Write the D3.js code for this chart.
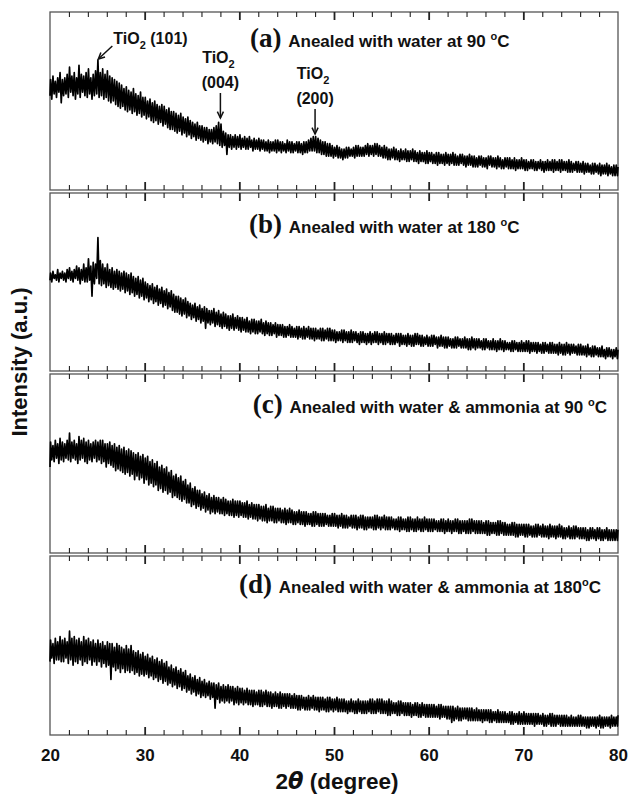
<!DOCTYPE html>
<html>
<head>
<meta charset="utf-8">
<script src="https://cdn.jsdelivr.net/npm/d3@7"></script>
<style>
  body { margin: 0; background: #fff; }
  svg { display: block; }
</style>
</head>
<body>
<script>
// 2-theta grid (degrees), one reading every 0.25 degree
const twoTheta = d3.range(20, 80.001, 0.25);

// panel labels and captions
const panelLetters = ["(a)", "(b)", "(c)", "(d)"];
const panelCaptions = [
  "Anealed with water at 90 ",
  "Anealed with water at 180 ",
  "Anealed with water & ammonia at 90 ",
  "Anealed with water & ammonia at 180"
];

// upper / lower edge of the noisy trace, intensity in a.u. (0 = panel floor, 100 = panel top)
// each row is 5 degrees
const aHigh = [
  62, 64, 61, 63, 66, 62, 63, 65, 69, 64, 66, 63, 70, 65, 64, 66, 68, 63, 65, 67,
  73, 66, 68, 65, 67, 64, 63, 62, 61, 60, 59, 57, 58, 56, 55, 57, 54, 53, 55, 52,
  52, 50, 51, 49, 50, 48, 47, 48, 47, 45, 46, 44, 44, 43, 42, 43, 41, 40, 41, 39,
  38, 37, 38, 36, 36, 35, 35, 34, 34, 35, 36, 38, 37, 33, 32, 31, 31, 30, 31, 30,
  31, 29, 30, 29, 30, 28, 29, 28, 29, 28, 28, 27, 28, 27, 27, 28, 28, 27, 27, 26,
  28, 27, 27, 26, 27, 27, 26, 27, 27, 28, 29, 30, 30, 29, 28, 27, 27, 26, 26, 25,
  24, 25, 24, 23, 23, 24, 24, 23, 24, 25, 25, 24, 24, 25, 26, 25, 25, 26, 26, 25,
  24, 25, 24, 23, 23, 24, 23, 22, 23, 22, 23, 22, 22, 23, 22, 21, 22, 21, 21, 22,
  21, 21, 20, 21, 21, 20, 20, 21, 20, 20, 21, 20, 19, 20, 20, 19, 19, 20, 19, 19,
  18, 19, 19, 18, 18, 19, 19, 18, 18, 19, 18, 17, 18, 18, 18, 17, 18, 17, 17, 18,
  17, 17, 16, 17, 17, 16, 16, 17, 16, 16, 17, 16, 17, 17, 16, 17, 17, 16, 16, 17,
  16, 15, 16, 16, 15, 16, 15, 15, 14, 15, 15, 14, 15, 14, 14, 15, 14, 13, 14, 14,
  13
];
const aLow = [
  53, 51, 54, 52, 55, 49, 53, 54, 52, 55, 53, 51, 54, 52, 55, 53, 52, 54, 51, 53,
  54, 52, 53, 51, 52, 50, 49, 50, 48, 47, 46, 47, 45, 44, 45, 43, 44, 42, 43, 41,
  42, 40, 41, 39, 38, 39, 37, 38, 36, 37, 35, 34, 34, 33, 32, 33, 31, 32, 30, 31,
  29, 30, 28, 29, 28, 27, 28, 26, 27, 26, 27, 26, 25, 24, 25, 20, 24, 23, 24, 23,
  24, 23, 24, 23, 23, 24, 22, 23, 23, 22, 23, 22, 22, 21, 22, 22, 21, 22, 21, 22,
  21, 22, 21, 21, 22, 21, 21, 20, 21, 21, 22, 22, 22, 21, 21, 20, 20, 19, 19, 19,
  18, 19, 18, 18, 17, 18, 18, 19, 19, 18, 19, 19, 19, 19, 20, 19, 20, 19, 20, 19,
  19, 18, 18, 17, 17, 18, 17, 17, 16, 17, 17, 16, 16, 17, 16, 16, 15, 16, 16, 15,
  15, 16, 15, 15, 14, 15, 15, 14, 15, 14, 15, 14, 14, 14, 15, 14, 13, 14, 14, 13,
  13, 13, 14, 13, 13, 12, 14, 13, 13, 12, 13, 12, 12, 13, 12, 12, 12, 11, 12, 12,
  12, 11, 11, 12, 12, 11, 11, 12, 11, 10, 11, 11, 11, 10, 11, 11, 10, 11, 11, 10,
  10, 10, 11, 10, 10, 10, 9, 10, 10, 9, 9, 10, 9, 8, 9, 9, 8, 9, 8, 8,
  8
];
const bHigh = [
  55, 56, 54, 57, 55, 56, 55, 57, 58, 56, 57, 59, 58, 57, 60, 58, 63, 59, 61, 60,
  75, 62, 60, 58, 60, 57, 58, 56, 57, 56, 55, 56, 55, 54, 55, 53, 52, 53, 51, 52,
  50, 49, 48, 49, 47, 48, 46, 47, 45, 46, 44, 45, 43, 42, 42, 41, 40, 41, 39, 38,
  37, 38, 36, 37, 35, 36, 35, 34, 34, 35, 33, 34, 32, 33, 32, 31, 31, 32, 30, 31,
  30, 30, 29, 30, 28, 29, 29, 28, 28, 29, 27, 28, 27, 27, 26, 27, 26, 26, 26, 25,
  25, 26, 25, 24, 25, 25, 24, 25, 24, 25, 24, 24, 24, 23, 24, 24, 23, 24, 24, 23,
  23, 22, 22, 23, 23, 22, 22, 23, 22, 22, 21, 22, 22, 21, 21, 22, 21, 22, 22, 21,
  21, 22, 21, 21, 21, 20, 21, 21, 21, 20, 20, 21, 20, 20, 21, 21, 20, 20, 19, 20,
  19, 20, 20, 19, 19, 20, 19, 19, 19, 18, 18, 19, 19, 18, 18, 19, 18, 18, 19, 18,
  18, 18, 17, 18, 18, 17, 17, 18, 17, 17, 18, 17, 17, 16, 16, 17, 17, 16, 16, 17,
  16, 17, 17, 16, 16, 16, 16, 15, 16, 16, 15, 16, 16, 15, 15, 16, 15, 15, 16, 15,
  15, 15, 14, 15, 15, 14, 14, 15, 13, 14, 14, 13, 13, 14, 12, 13, 13, 12, 12, 13,
  12
];
const bLow = [
  51, 50, 52, 51, 50, 52, 51, 50, 52, 51, 50, 52, 51, 49, 51, 50, 50, 51, 42, 49,
  52, 49, 48, 49, 47, 48, 47, 46, 47, 46, 45, 46, 44, 45, 43, 44, 42, 43, 41, 42,
  40, 41, 39, 40, 38, 39, 37, 38, 36, 37, 35, 36, 34, 33, 33, 32, 31, 32, 30, 31,
  29, 30, 28, 29, 27, 28, 24, 27, 26, 27, 25, 26, 25, 24, 25, 24, 23, 24, 23, 24,
  23, 22, 23, 22, 22, 21, 22, 21, 21, 22, 21, 20, 21, 20, 20, 21, 19, 20, 20, 19,
  19, 20, 19, 19, 19, 18, 19, 18, 18, 19, 18, 18, 17, 18, 18, 17, 17, 18, 17, 17,
  17, 16, 17, 17, 16, 17, 16, 16, 16, 17, 16, 15, 16, 16, 15, 16, 15, 16, 16, 15,
  16, 15, 15, 16, 15, 15, 15, 16, 14, 15, 15, 14, 15, 14, 14, 15, 15, 14, 14, 15,
  14, 14, 14, 15, 13, 14, 14, 13, 13, 14, 13, 13, 13, 14, 13, 13, 13, 12, 12, 13,
  12, 13, 13, 12, 12, 13, 12, 12, 12, 11, 12, 12, 11, 12, 12, 11, 11, 12, 11, 11,
  11, 11, 11, 10, 11, 11, 10, 11, 10, 10, 11, 10, 10, 10, 10, 9, 10, 9, 9, 10,
  9, 10, 10, 9, 9, 9, 9, 8, 9, 8, 8, 9, 8, 8, 8, 7, 8, 8, 7, 8,
  7
];
const cHigh = [
  62, 60, 63, 61, 64, 62, 61, 63, 67, 62, 63, 61, 65, 63, 64, 62, 63, 61, 62, 63,
  62, 63, 63, 61, 61, 62, 60, 61, 59, 60, 58, 59, 57, 58, 57, 56, 55, 56, 54, 55,
  53, 54, 51, 52, 50, 51, 48, 49, 47, 48, 45, 46, 43, 44, 42, 43, 40, 41, 38, 39,
  36, 37, 35, 35, 33, 34, 32, 33, 31, 32, 31, 31, 30, 31, 30, 29, 29, 30, 29, 29,
  29, 28, 28, 29, 27, 28, 27, 27, 27, 26, 26, 27, 25, 26, 26, 25, 25, 25, 24, 25,
  24, 25, 24, 23, 23, 24, 23, 23, 23, 22, 22, 23, 23, 22, 22, 22, 22, 21, 21, 22,
  22, 21, 21, 22, 21, 21, 20, 21, 21, 21, 20, 21, 21, 20, 20, 20, 20, 21, 21, 20,
  20, 21, 20, 20, 20, 19, 19, 20, 20, 19, 19, 20, 20, 19, 19, 20, 19, 19, 20, 19,
  19, 19, 19, 18, 18, 19, 19, 18, 19, 18, 18, 19, 19, 18, 18, 18, 18, 19, 19, 18,
  18, 18, 18, 17, 18, 18, 17, 17, 17, 18, 18, 17, 17, 16, 16, 17, 17, 16, 16, 16,
  16, 16, 16, 15, 15, 16, 16, 15, 16, 15, 15, 16, 15, 15, 15, 16, 15, 14, 14, 15,
  14, 15, 15, 14, 14, 14, 14, 13, 14, 14, 13, 14, 14, 13, 13, 14, 13, 13, 13, 13,
  13
];
const cLow = [
  48, 52, 51, 53, 50, 52, 51, 53, 52, 51, 53, 52, 50, 52, 53, 51, 50, 52, 51, 53,
  51, 52, 50, 51, 48, 50, 49, 48, 46, 47, 46, 45, 44, 45, 43, 44, 41, 43, 41, 42,
  39, 41, 38, 39, 37, 38, 35, 36, 34, 35, 33, 34, 31, 32, 31, 30, 29, 30, 28, 28,
  26, 27, 25, 26, 24, 25, 23, 24, 22, 23, 22, 23, 22, 22, 21, 22, 21, 21, 20, 21,
  20, 21, 20, 20, 19, 20, 19, 19, 18, 19, 18, 18, 17, 18, 18, 17, 17, 18, 17, 17,
  16, 17, 17, 16, 16, 17, 16, 16, 15, 16, 16, 15, 15, 16, 15, 15, 15, 16, 15, 15,
  15, 15, 14, 15, 14, 14, 14, 15, 14, 14, 13, 14, 14, 13, 13, 14, 14, 13, 13, 14,
  13, 14, 13, 13, 13, 14, 13, 13, 12, 13, 13, 12, 12, 13, 12, 12, 13, 12, 12, 13,
  12, 12, 12, 13, 12, 12, 12, 11, 12, 12, 11, 12, 12, 11, 11, 12, 11, 11, 11, 12,
  11, 11, 11, 11, 11, 10, 10, 11, 11, 10, 10, 11, 10, 10, 10, 10, 10, 9, 9, 10,
  10, 9, 9, 10, 9, 9, 9, 10, 9, 9, 9, 8, 9, 9, 8, 9, 9, 8, 8, 9,
  8, 8, 8, 9, 8, 8, 8, 7, 7, 8, 8, 7, 8, 7, 7, 8, 7, 7, 7, 7,
  7
];
const dHigh = [
  53, 51, 54, 52, 55, 53, 54, 52, 58, 54, 55, 53, 54, 52, 55, 53, 54, 52, 53, 51,
  53, 51, 52, 50, 52, 51, 51, 49, 51, 50, 49, 48, 50, 48, 50, 47, 46, 47, 45, 46,
  44, 45, 43, 44, 42, 43, 41, 42, 40, 41, 38, 39, 37, 38, 36, 37, 35, 36, 33, 34,
  32, 33, 31, 32, 30, 31, 29, 30, 29, 29, 28, 29, 27, 28, 27, 28, 27, 27, 26, 27,
  26, 26, 25, 26, 25, 25, 25, 24, 25, 25, 24, 25, 24, 24, 23, 24, 23, 24, 23, 23,
  23, 23, 22, 23, 22, 22, 22, 21, 21, 22, 21, 22, 21, 21, 21, 21, 20, 21, 21, 20,
  20, 21, 20, 20, 20, 19, 19, 20, 19, 19, 20, 19, 19, 19, 19, 20, 20, 19, 20, 20,
  20, 19, 19, 20, 19, 18, 18, 19, 19, 18, 18, 18, 18, 17, 18, 18, 17, 18, 17, 17,
  17, 17, 17, 16, 17, 17, 16, 16, 16, 16, 16, 15, 16, 15, 15, 15, 15, 15, 15, 14,
  15, 14, 14, 14, 14, 14, 14, 13, 13, 14, 13, 13, 13, 12, 13, 13, 12, 12, 13, 12,
  13, 12, 12, 12, 12, 12, 12, 11, 12, 11, 11, 12, 12, 11, 11, 11, 11, 11, 11, 10,
  11, 10, 10, 11, 11, 10, 10, 10, 10, 10, 10, 10, 11, 10, 10, 10, 10, 11, 10, 10,
  11
];
const dLow = [
  41, 43, 40, 42, 42, 41, 41, 43, 40, 42, 39, 41, 40, 42, 39, 41, 40, 42, 39, 41,
  39, 41, 38, 40, 38, 39, 31, 38, 36, 37, 35, 37, 35, 36, 35, 36, 34, 35, 33, 34,
  33, 34, 32, 33, 31, 32, 30, 31, 29, 30, 28, 29, 27, 28, 26, 27, 25, 26, 24, 25,
  23, 24, 22, 23, 21, 22, 21, 22, 20, 21, 15, 20, 18, 19, 18, 19, 18, 19, 17, 18,
  17, 18, 17, 18, 17, 17, 16, 17, 17, 16, 16, 17, 16, 16, 15, 16, 16, 15, 15, 16,
  15, 16, 15, 15, 15, 14, 14, 15, 14, 14, 14, 15, 14, 14, 13, 14, 14, 13, 13, 14,
  13, 14, 13, 13, 13, 13, 12, 13, 13, 12, 12, 13, 12, 12, 12, 13, 12, 12, 12, 13,
  12, 12, 12, 11, 11, 12, 12, 11, 11, 12, 11, 11, 11, 10, 11, 11, 10, 10, 11, 10,
  10, 10, 10, 10, 10, 9, 10, 10, 9, 9, 7, 8, 9, 8, 8, 9, 9, 8, 8, 8,
  8, 8, 8, 7, 8, 8, 7, 7, 8, 7, 7, 7, 7, 7, 7, 6, 6, 7, 6, 6,
  6, 6, 6, 6, 6, 5, 6, 6, 6, 5, 5, 6, 5, 5, 5, 6, 5, 5, 5, 5,
  5, 5, 5, 5, 5, 5, 5, 4, 4, 5, 5, 4, 5, 4, 4, 5, 5, 4, 5, 5,
  5
];
const seriesHigh = [aHigh, bHigh, cHigh, dHigh];
const seriesLow = [aLow, bLow, cLow, dLow];

// TiO2 reflections marked in panel (a)
const peakPositions = [25, 38, 48];
const peakLabels = ["(101)", "(004)", "(200)"];

// x axis ticks
const majorTicks = [20, 30, 40, 50, 60, 70, 80];
const minorTicks = [22, 24, 26, 28, 32, 34, 36, 38, 42, 44, 46, 48, 52, 54, 56, 58, 62, 64, 66, 68, 72, 74, 76, 78];

const width = 628;
const height = 794;
const left = 50;
const right = 618;
const panelTop = [12, 193, 374, 556];
const panelBottom = [190, 371, 553, 735];

const svg = d3.select("body")
  .append("svg")
  .attr("width", width)
  .attr("height", height)
  .style("font-family", "'Liberation Sans', Arial, sans-serif");

const xScale = d3.scaleLinear().domain([20, 80]).range([left, right]);

panelTop.forEach((top, p) => {
  const bottom = panelBottom[p];
  const yScale = d3.scaleLinear().domain([0, 100]).range([bottom, top]);

  const g = svg.append("g").attr("class", "panel");

  //frame
  g.append("rect")
    .attr("x", left)
    .attr("y", top)
    .attr("width", right - left)
    .attr("height", bottom - top)
    .attr("fill", "none")
    .attr("stroke", "#555")
    .attr("stroke-width", 1.3);

  //inward ticks on top and bottom
  const inner = majorTicks.filter((t) => t > 20 && t < 80);
  [[d3.axisBottom, top], [d3.axisTop, bottom]].forEach(([axisFn, y]) => {
    g.append("g")
      .attr("transform", "translate(0," + y + ")")
      .call(axisFn(xScale).tickValues(minorTicks).tickSize(5).tickFormat(""))
      .call((a) => a.select(".domain").remove())
      .call((a) => a.selectAll("line").attr("stroke", "#222").attr("stroke-width", 1.1));
    g.append("g")
      .attr("transform", "translate(0," + y + ")")
      .call(axisFn(xScale).tickValues(inner).tickSize(8).tickFormat(""))
      .call((a) => a.select(".domain").remove())
      .call((a) => a.selectAll("line").attr("stroke", "#222").attr("stroke-width", 1.8));
  });

  //the trace: zigzag between the lower and upper readings
  const hi = seriesHigh[p];
  const lo = seriesLow[p];
  const points = [];
  twoTheta.forEach((t, i) => {
    points.push([Math.max(20, t - 0.0625), lo[i]]);
    points.push([Math.min(80, t + 0.0625), hi[i]]);
  });
  g.append("path")
    .datum(points)
    .attr("fill", "none")
    .attr("stroke", "#000")
    .attr("stroke-width", 1.7)
    .attr("stroke-linejoin", "round")
    .attr("d", d3.line().x((d) => xScale(d[0])).y((d) => yScale(d[1])));

  //caption
  const captionPos = [
    { x: 250, y: 47, anchor: "start" },
    { x: 249, y: 233, anchor: "start" },
    { x: 607, y: 413, anchor: "end" },
    { x: 601, y: 593, anchor: "end" }
  ][p];
  const cap = g.append("text")
    .attr("x", captionPos.x)
    .attr("y", captionPos.y)
    .attr("text-anchor", captionPos.anchor)
    .attr("font-weight", "bold")
    .attr("fill", "#111");
  cap.append("tspan")
    .attr("font-family", "'Liberation Serif', 'Times New Roman', serif")
    .attr("font-size", 27)
    .text(panelLetters[p] + " ");
  cap.append("tspan").attr("font-size", 17).text(panelCaptions[p]);
  cap.append("tspan").attr("font-size", 11).attr("dy", -7).text("o");
  cap.append("tspan").attr("font-size", 17).attr("dy", 7).text("C");
});

//peak annotations in panel (a)
const annot = svg.append("g").attr("fill", "#111").attr("font-weight", "bold").attr("font-size", 16);
const tio2 = (sel, x, y, anchor, suffix) => {
  const t = sel.append("text").attr("x", x).attr("y", y).attr("text-anchor", anchor);
  t.append("tspan").text("TiO");
  t.append("tspan").attr("font-size", 11).attr("dy", 5).text("2");
  if (suffix) t.append("tspan").attr("dy", -5).text(suffix);
  return t;
};
const arrow = (x1, y1, x2, y2) => {
  const ang = Math.atan2(y2 - y1, x2 - x1);
  const len = 7;
  annot.append("line")
    .attr("x1", x1).attr("y1", y1).attr("x2", x2).attr("y2", y2)
    .attr("stroke", "#111").attr("stroke-width", 1.5);
  annot.append("path")
    .attr("d", "M" + (x2 - len * Math.cos(ang - 0.45)) + "," + (y2 - len * Math.sin(ang - 0.45)) +
      "L" + x2 + "," + y2 +
      "L" + (x2 - len * Math.cos(ang + 0.45)) + "," + (y2 - len * Math.sin(ang + 0.45)))
    .attr("fill", "none").attr("stroke", "#111").attr("stroke-width", 1.5);
};

// (101): label to the upper right of the peak
const p101 = xScale(peakPositions[0]);
tio2(annot, p101 + 16, 44, "start", " " + peakLabels[0]);
arrow(p101 + 15, 46, p101 + 1, 59);

// (004) and (200): stacked labels with a down arrow
[1, 2].forEach((k) => {
  const px = xScale(peakPositions[k]);
  const top = k === 1 ? 63 : 79;
  tio2(annot, px - 2, top, "middle", null);
  annot.append("text").attr("x", px).attr("y", top + 25).attr("text-anchor", "middle").text(peakLabels[k]);
  arrow(px, top + 30, px, top + 55);
});

//x tick labels on the bottom panel
svg.append("g")
  .attr("transform", "translate(0," + panelBottom[3] + ")")
  .call(d3.axisBottom(xScale).tickValues(majorTicks).tickSize(0).tickPadding(14))
  .call((a) => a.select(".domain").remove())
  .call((a) => a.selectAll("text")
    .attr("font-family", "'Liberation Sans', Arial, sans-serif")
    .attr("font-size", 17)
    .attr("font-weight", "bold")
    .attr("fill", "#111"));

//x title
const xt = svg.append("text")
  .attr("x", 337)
  .attr("y", 789)
  .attr("text-anchor", "middle")
  .attr("font-size", 22.5)
  .attr("font-weight", "bold")
  .attr("fill", "#111");
xt.append("tspan").text("2");
xt.append("tspan").attr("font-style", "italic").attr("font-family", "'DejaVu Sans', sans-serif").text("θ");
xt.append("tspan").text(" (degree)");

//y title
svg.append("text")
  .attr("transform", "rotate(-90)")
  .attr("x", -362)
  .attr("y", 27)
  .attr("text-anchor", "middle")
  .attr("font-size", 22)
  .attr("font-weight", "bold")
  .attr("fill", "#111")
  .text("Intensity (a.u.)");
</script>
</body>
</html>
